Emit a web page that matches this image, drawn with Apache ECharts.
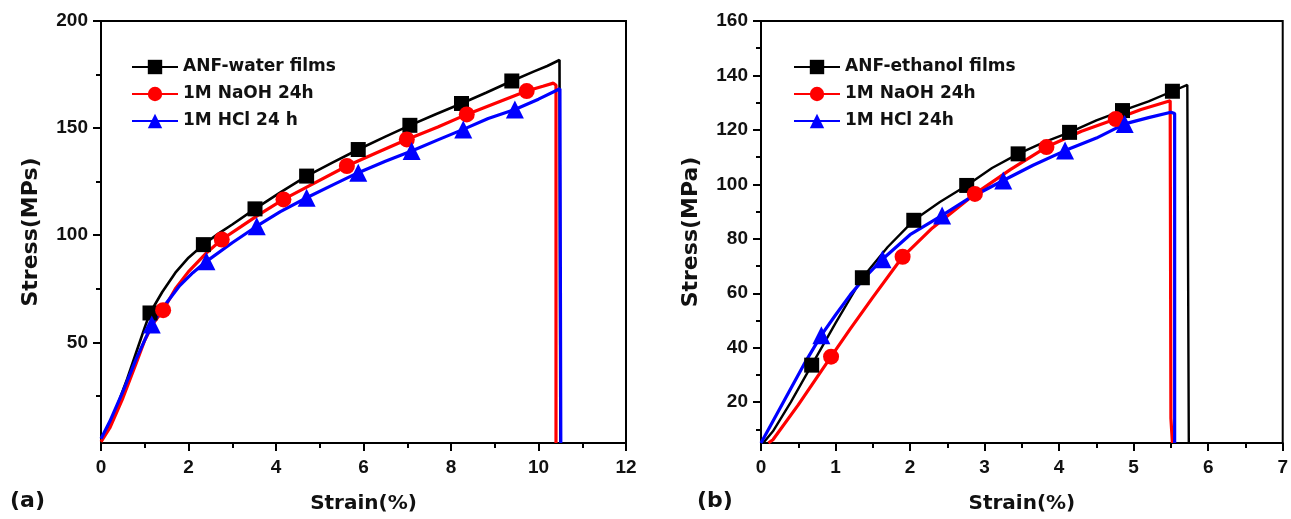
<!DOCTYPE html>
<html>
<head>
<meta charset="utf-8">
<script src="https://cdn.jsdelivr.net/npm/echarts@6/dist/echarts.min.js"></script>
<style>
html,body{margin:0;padding:0;background:#fff;}
#chart{width:1291px;height:519px;}
</style>
</head>
<body>
<div id="chart"></div>
<script>
// ---------- Panel (a) data ----------
const aNames = ['ANF-water films', '1M NaOH 24h', '1M HCl 24 h'];
const aXTicks = [0, 2, 4, 6, 8, 10, 12];
const aYLabels = [50, 100, 150, 200];
const aYMinor = [25, 75, 125, 175];

const aWaterCurve = [[0,4],[0.2,12],[0.4,22],[0.6,33],[0.8,45],[1.0,57],[1.4,73.5],[1.7,82.5],[2.0,89.5],[2.7,101],[3.0,105],[4.1,120],[5.3,134],[6.5,146],[7.65,156.5],[8.8,166.5],[9.9,176.5],[10.2,179],[10.48,181.8],[10.5,3]];
const aWaterMarkers = [[1.12,63.7],[2.34,95.6],[3.52,112.3],[4.7,127.6],[5.88,140],[7.06,151.3],[8.24,161.5],[9.39,172]];

const aNaohCurve = [[0,3.5],[0.2,10],[0.5,24],[0.8,40],[1.0,51],[1.2,59],[1.7,75],[2.0,83],[2.4,91.5],[3.2,104],[3.6,109.5],[4.8,123.5],[6.3,138.5],[7.7,150.5],[9.0,161.5],[10.1,169.5],[10.34,171],[10.4,170],[10.4,3]];
const aNaohMarkers = [[1.42,65],[2.76,98],[4.17,116.7],[5.62,132.3],[6.99,144.7],[8.36,156.4],[9.73,167.3]];

const aHclCurve = [[0,5],[0.2,13],[0.5,27],[0.8,42],[1.0,51],[1.5,68.5],[1.8,76.5],[2.1,82.5],[3.0,96.5],[4.1,111],[5.3,123.5],[6.5,134.5],[7.7,144.5],[8.85,154.5],[10.0,163.5],[10.49,168.4],[10.51,3]];
const aHclMarkers = [[1.16,58.3],[2.41,87.8],[3.56,104.2],[4.7,117.5],[5.88,129.2],[7.1,139.3],[8.28,149.4],[9.46,158.7]];

// ---------- Panel (b) data ----------
const bNames = ['ANF-ethanol films', '1M NaOH 24h', '1M HCl 24h'];
const bXTicks = [0, 1, 2, 3, 4, 5, 6, 7];
const bYLabels = [20, 40, 60, 80, 100, 120, 140, 160];
const bYMinor = [10, 30, 50, 70, 90, 110, 130, 150];

const bEthCurve = [[0.03,5],[0.16,9.3],[0.4,20],[1.0,49],[1.7,77],[2.4,93.5],[3.1,106],[3.8,115.5],[4.5,123.5],[5.2,130.5],[5.72,136.5],[5.74,5]];
const bEthMarkers = [[0.68,33.6],[1.36,65.7],[2.05,86.8],[2.76,99.6],[3.45,111.2],[4.14,119.1],[4.85,127.1],[5.52,134.2]];

const bNaohCurve = [[0.1,5],[0.16,6.2],[0.5,19],[1.2,47],[1.5,58.5],[2.3,84],[3.35,105.5],[4.3,119.5],[5.1,127.5],[5.49,130.7],[5.5,14],[5.52,14],[5.52,5]];
const bNaohMarkers = [[0.94,36.7],[1.9,73.4],[2.87,96.5],[3.83,113.7],[4.76,124]];

const bHclCurve = [[0,5],[0.2,15],[0.4,25],[0.6,35],[1.0,52],[1.2,59.5],[1.4,66],[2.0,81.5],[2.8,95],[3.65,107],[4.5,117],[5.2,124.5],[5.5,126.5],[5.55,126],[5.55,5]];
const bHclMarkers = [[0.81,44.6],[1.63,72.5],[2.43,88.6],[3.25,101.4],[4.08,112.4],[4.88,122.2]];

// ---------- build ----------
function merge(curve, markers) {
  const pts = curve.map(p => ({value: p, _m: 0}))
    .concat(markers.map(p => ({value: p, _m: 1})));
  pts.sort((a, b) => a.value[0] - b.value[0]);
  return pts.map(p => p._m ? {value: p.value} : {value: p.value, symbol: 'none'});
}

const FONT = '"Liberation Sans", Arial, sans-serif';
const WIDE = '"DejaVu Sans", Verdana, sans-serif';
const BLACK = '#000000', RED = '#ff0000', BLUE = '#0000ff';

function xAxisCfg(gridIndex, max, interval) {
  return {
    type: 'value', gridIndex, min: 0, max, interval,
    name: 'Strain(%)', nameLocation: 'middle', nameGap: 51,
    nameTextStyle: {fontFamily: WIDE, fontWeight: 'bold', fontSize: 20, color: '#111'},
    axisLine: {show: true, onZero: false, lineStyle: {color: '#000', width: 2}},
    axisTick: {show: true, inside: false, length: 8, lineStyle: {color: '#000', width: 2}},
    minorTick: {show: true, splitNumber: 2, length: 5, lineStyle: {color: '#000', width: 2}},
    axisLabel: {fontFamily: FONT, fontWeight: 'bold', fontSize: 19, color: '#111', margin: 15},
    splitLine: {show: false}, minorSplitLine: {show: false}
  };
}
function yAxisMajor(gridIndex, min, max, labels, name) {
  return {
    type: 'value', gridIndex, min, max, position: 'left', offset: 0,
    name, nameLocation: 'middle', nameGap: 59,
    nameTextStyle: {fontFamily: WIDE, fontWeight: 'bold', fontSize: 22, color: '#111'},
    axisLine: {show: true, onZero: false, lineStyle: {color: '#000', width: 2}},
    axisTick: {show: true, inside: false, length: 8, customValues: labels, lineStyle: {color: '#000', width: 2}},
    axisLabel: {fontFamily: FONT, fontWeight: 'bold', fontSize: 19, color: '#111', margin: 13, customValues: labels},
    splitLine: {show: false}
  };
}
function yAxisMinor(gridIndex, min, max, ticks) {
  return {
    type: 'value', gridIndex, min, max, position: 'left', offset: 0,
    axisLine: {show: false},
    axisTick: {show: true, inside: false, length: 5, customValues: ticks, lineStyle: {color: '#000', width: 2}},
    axisLabel: {show: false, customValues: ticks},
    splitLine: {show: false}
  };
}
function series(name, xi, yi, curve, markers, color, symbol, size, width) {
  return {
    type: 'line', name, xAxisIndex: xi, yAxisIndex: yi,
    data: merge(curve, markers),
    symbol, symbolSize: size, showAllSymbol: true,
    lineStyle: {color, width},
    itemStyle: {color, borderWidth: 0},
    animation: false, silent: true
  };
}
function legendCfg(left, names) {
  return {
    orient: 'vertical', left, top: 58, padding: 0,
    itemWidth: 46, itemHeight: 18, itemGap: 9,
    data: names,
    textStyle: {fontFamily: WIDE, fontWeight: 'bold', fontSize: 17, color: '#111', lineHeight: 18},
    selectedMode: false
  };
}

const chart = echarts.init(document.getElementById('chart'), null, {renderer: 'canvas'});
chart.setOption({
  backgroundColor: '#fff',
  animation: false,
  grid: [
    {left: 101, top: 21, width: 525, height: 423, show: true, borderColor: '#000', borderWidth: 2, backgroundColor: 'transparent'},
    {left: 761, top: 21, width: 525, height: 423, show: true, borderColor: '#000', borderWidth: 2, backgroundColor: 'transparent'}
  ],
  xAxis: [xAxisCfg(0, 12, 2), xAxisCfg(1, 7, 1)],
  yAxis: [
    yAxisMajor(0, 3, 200, aYLabels, 'Stress(MPs)'),
    yAxisMinor(0, 3, 200, aYMinor),
    yAxisMajor(1, 5, 160, bYLabels, 'Stress(MPa)'),
    yAxisMinor(1, 5, 160, bYMinor)
  ],
  legend: [legendCfg(131, aNames), legendCfg(793, bNames)],
  series: [
    series(aNames[0], 0, 0, aWaterCurve, aWaterMarkers, BLACK, 'rect', 15, 2.6),
    series(aNames[1], 0, 0, aNaohCurve, aNaohMarkers, RED, 'circle', 16, 3.2),
    series(aNames[2], 0, 0, aHclCurve, aHclMarkers, BLUE, 'triangle', 18, 3.2),
    series(bNames[0], 1, 2, bEthCurve, bEthMarkers, BLACK, 'rect', 15, 2.4),
    series(bNames[1], 1, 2, bNaohCurve, bNaohMarkers, RED, 'circle', 16, 3.2),
    series(bNames[2], 1, 2, bHclCurve, bHclMarkers, BLUE, 'triangle', 18, 3.2)
  ],
  graphic: [
    {type: 'text', left: 10, top: 490, style: {text: '(a)', font: 'bold 22px ' + WIDE, fill: '#111'}},
    {type: 'text', left: 697, top: 490, style: {text: '(b)', font: 'bold 22px ' + WIDE, fill: '#111'}}
  ]
});
</script>
</body>
</html>
